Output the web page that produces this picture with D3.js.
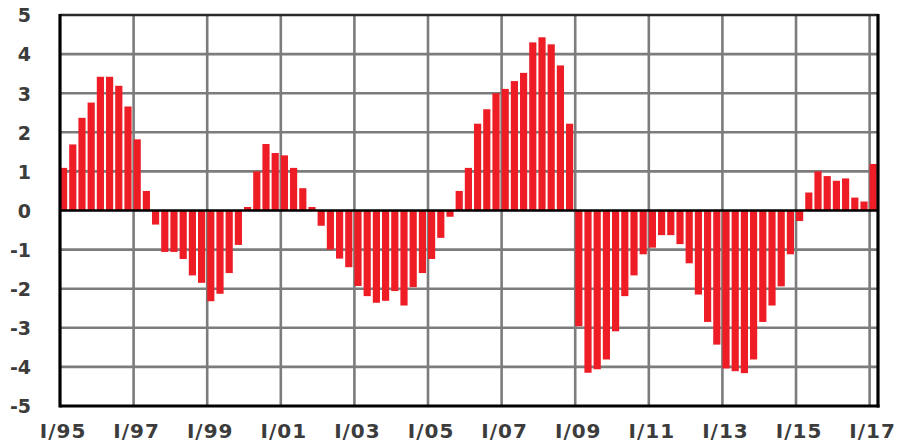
<!DOCTYPE html>
<html>
<head>
<meta charset="utf-8">
<script src="https://cdn.jsdelivr.net/npm/d3@7"></script>
<style>
  html, body { margin: 0; padding: 0; background: #fff; }
  svg { display: block; }
  .tick text { font-family: "DejaVu Sans", Verdana, sans-serif; font-weight: bold; fill: #3c3c3c; }
</style>
</head>
<body>
<svg id="chart" width="902" height="443"></svg>
<script>
// Quarterly values, I/95 .. I/17
const values = [
  1.09, 1.69, 2.37, 2.76, 3.42, 3.42, 3.19, 2.66,
  1.82, 0.50, -0.36, -1.06, -1.06, -1.24, -1.66, -1.85,
  -2.32, -2.13, -1.60, -0.88, 0.09, 1.00, 1.70, 1.47,
  1.41, 1.09, 0.57, 0.09, -0.39, -1.00, -1.23, -1.45,
  -1.93, -2.19, -2.36, -2.31, -2.06, -2.43, -1.96, -1.60,
  -1.24, -0.70, -0.16, 0.50, 1.09, 2.22, 2.59, 3.00,
  3.11, 3.31, 3.52, 4.30, 4.43, 4.25, 3.71, 2.22,
  -2.96, -4.15, -4.06, -3.81, -3.09, -2.19, -1.66, -1.12,
  -0.95, -0.63, -0.63, -0.86, -1.35, -2.15, -2.85, -3.43,
  -4.04, -4.11, -4.16, -3.81, -2.85, -2.43, -1.94, -1.12,
  -0.27, 0.46, 1.00, 0.88, 0.76, 0.82, 0.33, 0.23,
  1.19
];
const romans = ["I", "II", "III", "IV"];
const quarters = values.map((v, i) => {
  const yr = 95 + Math.floor(i / 4);
  return romans[i % 4] + "/" + String(yr % 100).padStart(2, "0");
});
const xTickLabels = ["I/95","I/97","I/99","I/01","I/03","I/05","I/07","I/09","I/11","I/13","I/15","I/17"];
const yTickValues = [-5,-4,-3,-2,-1,0,1,2,3,4,5];

const svg = d3.select("#chart");
const pLeft = 60, pRight = 878, pTop = 15, pBottom = 406;

const x = d3.scaleBand().domain(quarters).range([pLeft, 876.8]).paddingInner(0.22).paddingOuter(0);
const y = d3.scaleLinear().domain([-5, 5]).range([pBottom, pTop]);

const grid = svg.append("g");
// horizontal gridlines
grid.selectAll("line.h").data(yTickValues.filter(v => v > -5 && v < 5 && v !== 0)).enter()
  .append("line")
  .attr("x1", pLeft).attr("x2", pRight)
  .attr("y1", d => y(d)).attr("y2", d => y(d))
  .attr("stroke", "#7c7c7c").attr("stroke-width", 2.6);
// vertical gridlines
grid.selectAll("line.v").data(xTickLabels.slice(1)).enter()
  .append("line")
  .attr("x1", d => x(d)).attr("x2", d => x(d))
  .attr("y1", pTop).attr("y2", pBottom)
  .attr("stroke", "#7c7c7c").attr("stroke-width", 2.6);

// bars
svg.append("g").selectAll("rect").data(values).enter()
  .append("rect")
  .attr("x", (d, i) => x(quarters[i]))
  .attr("width", x.bandwidth())
  .attr("y", d => y(Math.max(0, d)))
  .attr("height", d => Math.abs(y(d) - y(0)))
  .attr("fill", "#ee1c25");

// zero line
svg.append("line")
  .attr("x1", pLeft).attr("x2", pRight)
  .attr("y1", y(0)).attr("y2", y(0))
  .attr("stroke", "#000").attr("stroke-width", 2.6);

// frame
svg.append("line").attr("x1", pLeft).attr("x2", pRight).attr("y1", pTop).attr("y2", pTop)
  .attr("stroke", "#2a2a2a").attr("stroke-width", 2.4);
svg.append("line").attr("x1", pLeft).attr("x2", pRight + 1.5).attr("y1", pBottom).attr("y2", pBottom)
  .attr("stroke", "#000").attr("stroke-width", 3);
svg.append("line").attr("x1", pLeft).attr("x2", pLeft).attr("y1", pTop - 1).attr("y2", pBottom + 1.5)
  .attr("stroke", "#000").attr("stroke-width", 3.2);
svg.append("line").attr("x1", pRight).attr("x2", pRight).attr("y1", pTop - 1).attr("y2", pBottom + 1.5)
  .attr("stroke", "#000").attr("stroke-width", 3.2);

// axes
const yAxis = d3.axisLeft(y).tickValues(yTickValues).tickSize(0).tickPadding(0).tickFormat(d => String(d));
const gy = svg.append("g").attr("transform", "translate(31,0)").call(yAxis);
gy.select(".domain").remove();
gy.selectAll("text").attr("font-size", 19).attr("dy", "0.36em");

const xAxis = d3.axisBottom(x).tickValues(xTickLabels).tickSize(0).tickPadding(0);
const gx = svg.append("g").attr("transform", "translate(3,0)").call(xAxis);
gx.select(".domain").remove();
gx.selectAll(".tick").attr("transform", d => `translate(${x(d)},0)`);
gx.selectAll("text").attr("font-size", 20).attr("y", 438).attr("dy", 0).attr("letter-spacing", 1);
</script>
</body>
</html>
